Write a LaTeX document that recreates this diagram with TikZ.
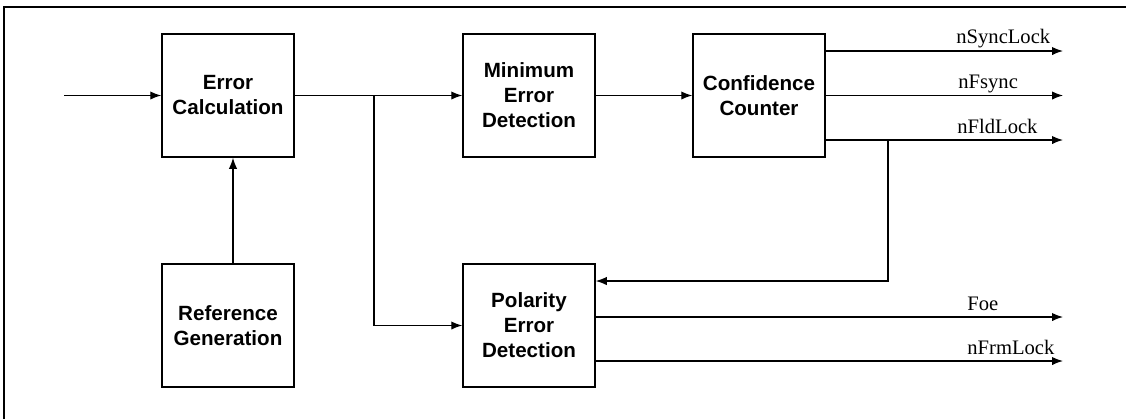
\documentclass[tikz,border=0pt]{standalone}
\usepackage{fontspec}
\setmainfont{Liberation Serif}
\setsansfont{Liberation Sans}
\usetikzlibrary{arrows.meta}

\tikzstyle{block}=[rectangle,draw=black,line width=0.75pt,minimum width=66pt,minimum height=61.5pt,inner sep=0pt,align=center,font=\sffamily\bfseries\fontsize{10.3}{12.5}\selectfont]
\tikzstyle{lbl}=[anchor=base west,inner sep=0pt,font=\fontsize{10.3}{12}\selectfont]
\tikzstyle{wire}=[line width=0.6pt]

\begin{document}
\begin{tikzpicture}[x=0.5pt, y=-0.5pt, >={Latex[length=5.5pt,width=4.2pt]}]
	\useasboundingbox (0,0) rectangle (1126,419);

	% Rahmen
	\draw[line width=0.8pt] (4,419) -- (4,7) -- (1126,7);

	% Obere Reihe
	\node(err) at (228,95.5) [block] {Error\\Calculation};
	\node(minerr) at (529,95.5) [block] {Minimum\\Error\\Detection};
	\node(conf) at (759,95.5) [block] {Confidence\\Counter};

	% Untere Reihe
	\node(ref) at (228,325.5) [block] {Reference\\Generation};
	\node(pol) at (529,325.5) [block] {Polarity\\Error\\Detection};

	% Hilfspunkte
	\coordinate(in) at (64,95.5);
	\coordinate(split) at (374,95.5);
	\coordinate(tap) at (888,140);
	\coordinate(outSync) at (1063,51);
	\coordinate(outFsync) at (1063,95.5);
	\coordinate(outFld) at (1063,140);
	\coordinate(outFoe) at (1063,317);
	\coordinate(outFrm) at (1063,361);

	\draw[->, wire] (in) -> (err);
	\draw[->, wire] ([xshift=2.5pt]ref.north) -> ([xshift=2.5pt]err.south);
	\draw[->, wire] (err) -> (minerr);
	\draw[->, wire] (minerr) -> (conf);
	\draw[->, wire] (split) |- (pol);
	\draw[->, wire] (tap) |- ([yshift=22.25pt]pol.east);

	% Ausgaenge
	\draw[->, wire] (conf.east |- outSync) -> (outSync);
	\draw[->, wire] (conf.east |- outFsync) -> (outFsync);
	\draw[->, wire] (conf.east |- outFld) -> (outFld);
	\draw[->, wire] (pol.east |- outFoe) -> (outFoe);
	\draw[->, wire] (pol.east |- outFrm) -> (outFrm);

	\node(lSync) at (956,43) [lbl] {nSyncLock};
	\node(lFsync) at (958,88.5) [lbl] {nFsync};
	\node(lFld) at (957,133) [lbl] {nFldLock};
	\node(lFoe) at (967,310) [lbl] {Foe};
	\node(lFrm) at (967,354) [lbl] {nFrmLock};

\end{tikzpicture}
\end{document}
